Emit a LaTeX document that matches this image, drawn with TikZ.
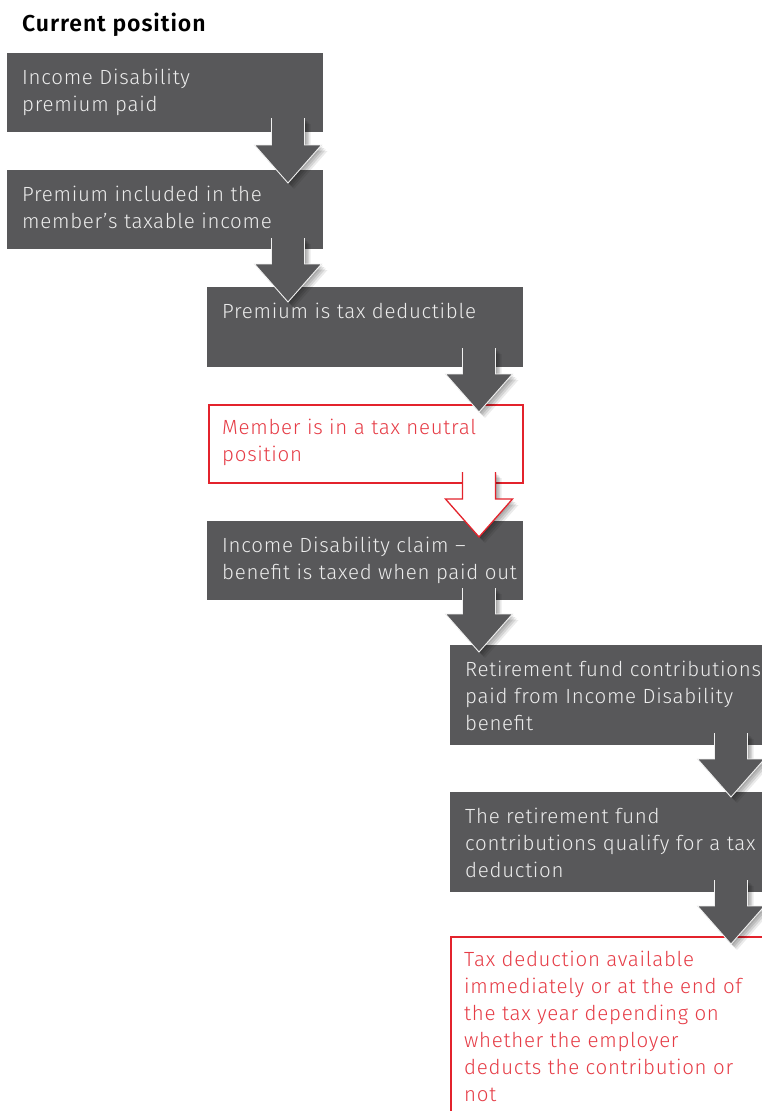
\documentclass[tikz,border=0pt]{standalone}
\usepackage{fontspec}
\setmainfont{Fira Sans}[UprightFont=* Light, LetterSpace=3.5]
\newfontfamily\titlefont{Fira Sans}[UprightFont=* SemiBold, LetterSpace=4]
\usetikzlibrary{calc}
\definecolor{boxgray}{HTML}{58585A}
\definecolor{txtgray}{HTML}{ECECEC}
\definecolor{fred}{HTML}{E3232C}
\definecolor{tred}{HTML}{E63C46}
\tikzset{
  graybox/.style={rectangle, anchor=north west, inner sep=0pt, fill=boxgray},
  redbox/.style={rectangle, anchor=north west, inner sep=0pt, fill=white, draw=fred, line width=1.8pt},
  boxtext/.style={anchor=north west, inner sep=0pt, align=left, font=\fontsize{20.5}{27}\selectfont, text=txtgray},
  redtext/.style={boxtext, text=tred},
  softshadow/.style={
    preaction={fill=black, opacity=0.10, transform canvas={shift={(1.5pt,-1.5pt)}}},
    preaction={fill=black, opacity=0.10, transform canvas={shift={(3pt,-3pt)}}},
    preaction={fill=black, opacity=0.10, transform canvas={shift={(4.5pt,-4.5pt)}}},
    preaction={fill=black, opacity=0.08, transform canvas={shift={(6pt,-6pt)}}}},
  grayfill/.style={fill=boxgray, softshadow},
  grayline/.style={draw=white!88!gray, line width=0.9pt, line join=miter},
  whitefill/.style={fill=white, softshadow},
  redline/.style={draw=fred, line width=1.3pt, line join=miter}
}
% #1 fill style, #2 outline style, #3 start (shaft top centre), #4 tip
\newcommand\blockarrow[4]{%
  \path[#1] let \p1=(#3), \p2=(#4) in
    (\x1-16.5pt,\y1) -- (\x1+16.5pt,\y1) -- (\x1+16.5pt,\y2+38pt) -- (\x1+33.5pt,\y2+38pt)
    -- (\x2,\y2) -- (\x1-33.5pt,\y2+38pt) -- (\x1-16.5pt,\y2+38pt) -- cycle;
  \path[#2] let \p1=(#3), \p2=(#4) in
    (\x1+16.5pt,\y1) -- (\x1+16.5pt,\y2+38pt) -- (\x1+33.5pt,\y2+38pt)
    -- (\x2,\y2) -- (\x1-33.5pt,\y2+38pt) -- (\x1-16.5pt,\y2+38pt) -- (\x1-16.5pt,\y1);
}
\begin{document}
\begin{tikzpicture}[x=1pt, y=-1pt]
\clip (0,0) rectangle (762,1111);
\fill[white] (0,0) rectangle (762,1111);

\node[anchor=base west, inner sep=0pt, font={\titlefont\fontsize{23}{27}\selectfont}] (title) at (22,31) {Current position};

% boxes
\node[graybox, minimum width=316pt, minimum height=79pt] (b1) at (7,53) {};
\node[graybox, minimum width=316pt, minimum height=79pt] (b2) at (7,170) {};
\node[graybox, minimum width=316pt, minimum height=80pt] (b3) at (207,287) {};
\node[redbox, minimum width=314pt, minimum height=78pt] (b4) at (208,404) {};
\node[graybox, minimum width=316pt, minimum height=79pt] (b5) at (207,521) {};
\node[graybox, minimum width=316pt, minimum height=100pt] (b6) at (450,645) {};
\node[graybox, minimum width=316pt, minimum height=100pt] (b7) at (450,792) {};
\node[redbox, minimum width=360pt, minimum height=220pt] (b8) at (450,936) {};

% texts
\node[boxtext] (t1) at ($(b1.north west)+(15,12)$) {\strut Income Disability\\premium paid};
\node[boxtext] (t2) at ($(b2.north west)+(15,12)$) {\strut Premium included in the\\member’s taxable income};
\node[boxtext] (t3) at ($(b3.north west)+(15,12)$) {\strut Premium is tax deductible};
\node[redtext] (t4) at ($(b4.north west)+(14,11.5)$) {\strut Member is in a tax neutral\\position};
\node[boxtext] (t5) at ($(b5.north west)+(15,12.5)$) {\strut Income Disability claim –\\benefit is taxed when paid out};
\node[boxtext] (t6) at ($(b6.north west)+(15,12)$) {\strut Retirement fund contributions\\paid from Income Disability\\benefit};
\node[boxtext] (t7) at ($(b7.north west)+(15,12)$) {\strut The retirement fund\\contributions qualify for a tax\\deduction};
\node[redtext] (t8) at ($(b8.north west)+(14,11.5)$) {\strut Tax deduction available\\immediately or at the end of\\the tax year depending on\\whether the employer\\deducts the contribution or\\not};

% arrow end points
\coordinate (a1s) at (288,118);  \coordinate (a1e) at (288,183);
\coordinate (a2s) at (288,238);  \coordinate (a2e) at (288,302);
\coordinate (a3s) at (479,348);  \coordinate (a3e) at (479,412);
\coordinate (a4s) at (479,472);  \coordinate (a4e) at (479,537);
\coordinate (a5s) at (479,588);  \coordinate (a5e) at (479,652);
\coordinate (a6s) at (731,733);  \coordinate (a6e) at (731,797);
\coordinate (a7s) at (731,880);  \coordinate (a7e) at (731,944);

\blockarrow{grayfill}{grayline}{a1s}{a1e}
\blockarrow{grayfill}{grayline}{a2s}{a2e}
\blockarrow{grayfill}{grayline}{a3s}{a3e}
\blockarrow{whitefill}{redline}{a4s}{a4e}
\blockarrow{grayfill}{grayline}{a5s}{a5e}
\blockarrow{grayfill}{grayline}{a6s}{a6e}
\blockarrow{grayfill}{grayline}{a7s}{a7e}
\end{tikzpicture}
\end{document}
